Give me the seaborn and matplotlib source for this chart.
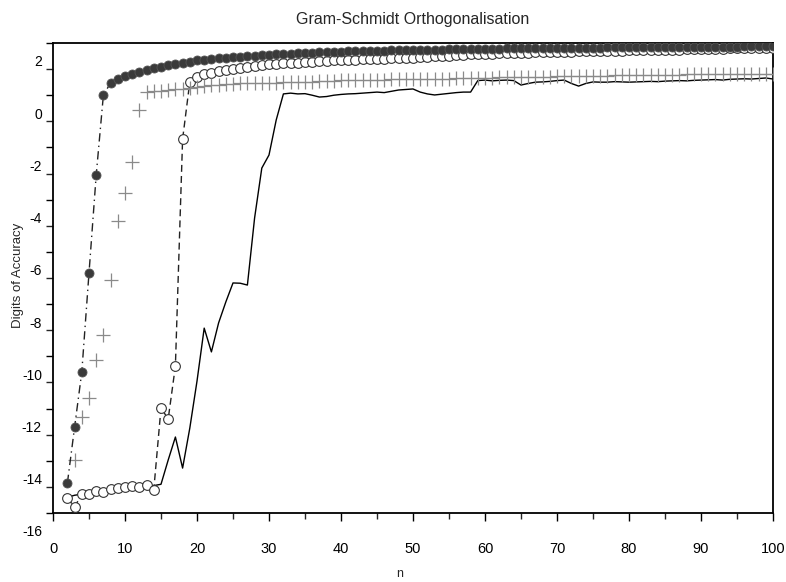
import numpy as np
import pandas as pd
import matplotlib
matplotlib.use("Agg")
import matplotlib.pyplot as plt
import matplotlib.transforms as mtransforms
from matplotlib.ticker import MultipleLocator
import seaborn as sns

# ---------------- data ----------------
n_main = list(range(2, 101))
n_cross = list(range(3, 101))

filled_vals = [
    -14.85, -12.71, -10.60, -6.81, -3.06, 0.01, 0.47, 0.62, 0.74,
    0.82, 0.90, 0.98, 1.04, 1.10, 1.16, 1.21, 1.25, 1.29, 1.33,
    1.36, 1.39, 1.41, 1.44, 1.46, 1.48, 1.50, 1.52, 1.54, 1.55,
    1.57, 1.58, 1.59, 1.61, 1.62, 1.63, 1.64, 1.65, 1.66, 1.67,
    1.68, 1.68, 1.69, 1.70, 1.70, 1.71, 1.72, 1.72, 1.73, 1.73,
    1.74, 1.74, 1.75, 1.75, 1.76, 1.76, 1.76, 1.77, 1.77, 1.78,
    1.78, 1.78, 1.79, 1.79, 1.79, 1.80, 1.80, 1.80, 1.81, 1.81,
    1.81, 1.81, 1.82, 1.82, 1.82, 1.82, 1.83, 1.83, 1.83, 1.83,
    1.84, 1.84, 1.84, 1.84, 1.84, 1.85, 1.85, 1.85, 1.85, 1.85,
    1.86, 1.86, 1.86, 1.86, 1.86, 1.87, 1.87, 1.87, 1.87, 1.87,
]

open_vals = [
    -15.43, -15.77, -15.27, -15.27, -15.16, -15.20, -15.08, -15.04, -15.00,
    -14.97, -15.02, -14.92, -15.10, -11.98, -12.40, -10.37, -1.68, 0.51, 0.70,
    0.80, 0.87, 0.93, 0.98, 1.02, 1.06, 1.10, 1.13, 1.16, 1.18,
    1.20, 1.22, 1.24, 1.25, 1.27, 1.28, 1.30, 1.31, 1.33, 1.34,
    1.35, 1.36, 1.37, 1.38, 1.39, 1.40, 1.41, 1.42, 1.43, 1.44,
    1.46, 1.48, 1.49, 1.51, 1.52, 1.53, 1.55, 1.56, 1.57, 1.58,
    1.59, 1.60, 1.61, 1.62, 1.63, 1.63, 1.64, 1.65, 1.66, 1.66,
    1.67, 1.67, 1.68, 1.68, 1.69, 1.70, 1.70, 1.71, 1.71, 1.72,
    1.72, 1.73, 1.73, 1.74, 1.74, 1.75, 1.75, 1.76, 1.76, 1.77,
    1.77, 1.78, 1.78, 1.79, 1.79, 1.80, 1.80, 1.81, 1.81, 1.81,
]

cross_vals = [
    -13.97, -12.32, -11.60, -10.14, -9.18, -7.08, -4.82, -3.74, -2.56, -0.57,
    0.12, 0.15, 0.18, 0.20, 0.22, 0.25, 0.28, 0.32, 0.35, 0.38,
    0.40, 0.42, 0.44, 0.45, 0.46, 0.47, 0.47, 0.48,
    0.48, 0.49, 0.49, 0.50, 0.51, 0.52, 0.53, 0.55, 0.56, 0.57,
    0.58, 0.58, 0.59, 0.59, 0.60, 0.60, 0.61, 0.61, 0.62, 0.62,
    0.62, 0.63, 0.63, 0.64, 0.64, 0.65, 0.65, 0.66, 0.66, 0.67,
    0.67, 0.68, 0.68, 0.69, 0.69, 0.70, 0.70, 0.71, 0.71, 0.72,
    0.72, 0.73, 0.73, 0.74, 0.74, 0.75, 0.75, 0.76, 0.76, 0.77,
    0.77, 0.78, 0.78, 0.78, 0.79, 0.79, 0.79, 0.80, 0.80, 0.80,
    0.81, 0.81, 0.81, 0.82, 0.82, 0.82, 0.82, 0.83, 0.83, 0.83,
]

solid_vals = [
    -15.40, -15.32, -15.28, -15.30, -15.28, -15.25, -15.20, -15.15, -15.12,
    -15.08, -15.05, -15.00, -14.95, -14.90, -13.97, -13.09, -14.28, -12.75, -10.95,
    -8.92, -9.83, -8.72, -7.92, -7.19, -7.20, -7.27, -4.70, -2.79, -2.29,
    -0.95, 0.05, 0.08, 0.05, 0.06, 0.00, -0.07, -0.05, 0.00, 0.03,
    0.05, 0.06, 0.08, 0.10, 0.12, 0.10, 0.15, 0.20, 0.22, 0.24,
    0.12, 0.05, 0.01, 0.04, 0.07, 0.10, 0.12, 0.12, 0.56, 0.58,
    0.55, 0.57, 0.58, 0.56, 0.39, 0.45, 0.50, 0.51, 0.53, 0.56,
    0.58, 0.45, 0.35, 0.45, 0.51, 0.50, 0.50, 0.52, 0.51, 0.50,
    0.51, 0.52, 0.53, 0.52, 0.54, 0.55, 0.56, 0.55, 0.57, 0.58,
    0.59, 0.60, 0.58, 0.61, 0.62, 0.63, 0.62, 0.64, 0.66, 0.62,
]

x_ticks = [0, 10, 20, 30, 40, 50, 60, 70, 80, 90, 100]
y_ticks = [-16, -14, -12, -10, -8, -6, -4, -2, 0, 2]

df_main = pd.DataFrame({"n": n_main, "filled": filled_vals,
                        "open": open_vals, "solid": solid_vals})
df_cross = pd.DataFrame({"n": n_cross, "cross": cross_vals})

# ---------------- style ----------------
sns.set_theme(style="ticks")
plt.rcParams["font.family"] = ["Liberation Sans", "DejaVu Sans"]

fig = plt.figure(figsize=(7.86, 5.82), dpi=100)
W, H = 786, 582
ax = fig.add_axes([53 / W, (H - 513) / H, 720 / W, 470 / H])
ax.set_facecolor("white")

# solid line
sns.lineplot(data=df_main, x="n", y="solid", ax=ax, color="black",
             linewidth=1.0, linestyle="-", zorder=2)
# open circles, dashed
sns.lineplot(data=df_main, x="n", y="open", ax=ax, color="#222222",
             linewidth=1.0, linestyle=(0, (5, 3)), marker="o", markersize=7,
             markerfacecolor="white", markeredgecolor="#333333",
             markeredgewidth=0.8, zorder=3)
# plus markers
sns.scatterplot(data=df_cross, x="n", y="cross", ax=ax, marker="+", s=90,
                color="#8a8a8a", linewidth=0.9, zorder=4)
# filled circles, dash-dot
sns.lineplot(data=df_main, x="n", y="filled", ax=ax, color="#222222",
             linewidth=1.0, linestyle=(0, (6, 3, 1, 3)), marker="o",
             markersize=6.5, markerfacecolor="#3a3a3a",
             markeredgecolor="#555555", markeredgewidth=0.6, zorder=5)

ax.set_xlim(0, 100)
ax.set_ylim(-16, 2)
ax.set_xticks(x_ticks)
ax.set_xticklabels([str(v) for v in x_ticks])
ax.set_yticks(y_ticks)
ax.set_yticklabels([str(v) for v in y_ticks])
ax.xaxis.set_minor_locator(MultipleLocator(5))
ax.yaxis.set_minor_locator(MultipleLocator(1))
ax.tick_params(axis="x", which="major", direction="out", length=6,
               width=1.0, pad=15, labelsize=10.5, colors="black")
ax.tick_params(axis="x", which="minor", direction="out", length=4, width=1.0)
ax.tick_params(axis="y", which="major", direction="out", length=5,
               width=1.0, pad=3, labelsize=10, colors="black")
ax.tick_params(axis="y", which="minor", direction="out", length=5, width=1.0)

# y tick labels sit ~18 px below their ticks in the reference
offset = mtransforms.ScaledTranslation(0, -18 / 100, fig.dpi_scale_trans)
for lbl in ax.get_yticklabels():
    lbl.set_transform(lbl.get_transform() + offset)

for sp in ax.spines.values():
    sp.set_visible(True)
    sp.set_color("black")
    sp.set_linewidth(1.3)

ax.set_xlabel("")
ax.set_ylabel("")
ax.set_title("Gram-Schmidt Orthogonalisation", fontsize=11.5, pad=14)
fig.text(400 / W, 1 - 574 / H, "n", ha="center", va="center", fontsize=9)
fig.text(18 / W, 1 - 275 / H, "Digits of Accuracy", rotation=90,
         ha="center", va="center", fontsize=9.5)

fig.savefig("out.png", dpi=100, facecolor="white")
